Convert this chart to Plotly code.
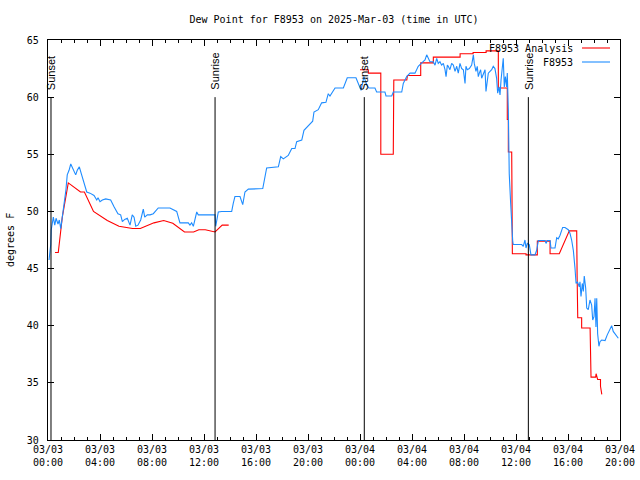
import datetime as dt
import plotly.graph_objects as go

BASE = dt.datetime(2025, 3, 3, 0, 0)

# ---- Analysis (red), hours since 03/03 00:00 ----
an_hours = [0.54, 0.79, 1.10, 1.56, 2.5, 2.8, 3.5, 4.56, 5.46, 6.5, 7.1, 8.15, 8.9, 9.6, 10.5, 11.2, 11.6, 12.1, 12.85, 13.4, 13.9,
            None,
            24.0, 24.64, 24.64, 25.6, 25.6, 26.56, 26.6, 27.6, 27.65, 28.67, 28.67, 29.64, 29.64, 31.7, 31.7, 32.7, 32.7, 33.7, 33.7,
            34.64, 34.64, 35.33, 35.33, 35.41, 35.41, 35.67, 35.72, 36.77, 36.77, 37.64, 37.64, 38.62, 38.62, 39.33, 40.1, 40.67,
            40.7, 40.75, 41.05, 41.05, 41.7, 41.77, 42.13, 42.16, 42.28, 42.5, 42.5, 42.6]
an_vals = [46.4, 46.4, 49.5, 52.5, 51.7, 51.7, 50.0, 49.2, 48.7, 48.5, 48.5, 49.0, 49.2, 48.96, 48.2, 48.2, 48.4, 48.4, 48.2, 48.8, 48.8,
           None,
           62.4, 62.4, 62.1, 62.1, 55.0, 55.0, 61.5, 61.5, 61.9, 61.9, 63.0, 63.0, 63.5, 63.5, 63.8, 63.8, 63.9, 63.9, 64.05,
           64.05, 60.8, 60.8, 58.05, 58.05, 55.2, 55.2, 46.3, 46.3, 46.2, 46.2, 47.4, 47.4, 46.3, 46.3, 48.3, 48.3,
           44.4, 40.7, 40.7, 39.8, 39.8, 35.5, 35.5, 35.8, 35.3, 35.3, 34.7, 34.0]

# ---- Observations F8953 (blue) ----
ob_hours = [0.08, 0.21, 0.25, 0.41, 0.52, 0.62, 0.77, 0.87, 0.98, 1.10, 1.23, 1.38, 1.48, 1.62, 1.75, 1.87, 2.0, 2.13, 2.25, 2.41,
            2.56, 2.72, 2.82, 2.98, 3.23, 3.54, 3.75, 3.85, 4.0, 4.18, 4.44, 4.82, 5.08, 5.38, 5.59, 5.72, 5.9, 6.1, 6.31, 6.48,
            6.62, 6.75, 6.92, 7.13, 7.33, 7.44, 7.64, 7.85, 8.1, 8.48, 9.38, 9.9, 10.15, 10.79, 10.92, 11.05, 11.18, 11.31, 11.44,
            11.56, 12.85, 12.9, 12.98, 13.1, 13.36, 14.13, 14.25, 14.38, 14.77, 14.98, 15.15, 15.41, 16.52, 16.82, 17.72, 17.9,
            18.1, 18.48, 18.75, 19.0, 19.13, 19.52, 19.69, 20.15, 20.36, 20.46, 20.79, 21.05, 21.38, 21.56, 21.69, 22.08, 22.72,
            23.02, 23.69, 24.08, 24.3, 24.55, 24.69, 25.15, 25.28, 25.92, 26.0, 26.44, 26.56, 27.21, 27.33, 27.59, 27.85, 28.23,
            28.48, 28.75, 29.0, 29.13, 29.25, 29.38, 29.64, 29.77,
            29.9, 30.02, 30.15, 30.28, 30.41, 30.54, 30.62, 30.72, 30.79, 30.92, 31.05, 31.18, 31.31, 31.44, 31.56, 31.69, 31.82,
            31.95, 32.08, 32.15, 32.25, 32.41, 32.59, 32.72, 32.79, 32.92, 33.02, 33.1, 33.18, 33.28, 33.36, 33.48, 33.62, 33.69,
            33.79, 33.87, 34.0, 34.13, 34.25, 34.38, 34.51, 34.59, 34.69, 34.77, 34.85, 34.98, 35.02, 35.1, 35.18, 35.28, 35.33,
            35.41, 35.48, 35.59, 35.67, 35.75, 35.79, 36.44, 36.56, 36.69, 36.77, 36.87, 37.02, 37.15, 37.46, 37.59, 37.72, 38.23,
            38.31, 38.41, 38.62, 38.69, 39.0, 39.13, 39.25, 39.38, 39.59, 39.77, 40.02, 40.15, 40.28, 40.41, 40.54, 40.62, 40.72,
            40.87, 40.92, 41.0, 41.1, 41.18, 41.25, 41.36, 41.44, 41.56, 41.69, 41.82, 41.9, 42.0, 42.08, 42.15, 42.21, 42.28,
            42.38, 42.46, 42.59, 42.85, 43.02, 43.23, 43.36, 43.48, 43.69, 43.87]
ob_vals = [45.75, 47.1, 48.4, 49.5, 48.8, 49.4, 48.9, 49.25, 48.5, 49.5, 50.4, 51.9, 53.2, 53.6, 54.15, 53.8, 53.6, 53.2, 53.6, 53.9,
           53.3, 52.75, 52.2, 51.7, 51.6, 51.4, 51.0, 51.2, 50.85, 51.0, 51.1, 51.0, 50.4, 49.8, 49.7, 49.1, 49.3, 49.4, 48.8, 49.7,
           49.5, 48.7, 48.8, 49.25, 50.2, 49.5, 49.7, 49.7, 49.8, 50.3, 50.3, 50.0, 49.0, 49.0, 48.8, 49.0, 48.7, 49.4, 49.95,
           49.7, 49.7, 48.7, 49.1, 49.95, 50.0, 50.0, 50.7, 51.3, 51.3, 50.6, 51.7, 51.95, 52.0, 53.8, 53.9, 54.8,
           54.6, 54.9, 55.5, 55.5, 56.1, 56.25, 57.1, 57.6, 57.9, 58.7, 58.9, 59.5, 59.55, 60.3, 60.1, 60.8, 60.8,
           61.7, 61.7, 60.6, 61.8, 61.0, 60.8, 60.8, 60.45, 60.45, 60.1, 60.1, 60.45, 60.45, 61.2, 61.8, 62.1, 62.1,
           62.7, 63.0, 63.25, 63.7, 63.4, 63.1, 63.1, 62.8,
           63.4, 62.95, 63.1, 62.8, 62.95, 62.4, 61.8, 62.8, 62.7, 62.4, 62.95, 62.8, 62.25, 62.7, 62.1, 62.95, 62.5,
           62.4, 61.2, 62.7, 62.4, 62.5, 62.8, 63.7, 62.95, 62.25, 62.7, 61.8, 62.1, 62.4, 61.65, 62.1, 62.4, 60.5,
           61.8, 62.1, 62.25, 62.4, 62.7, 62.5, 61.65, 60.35, 60.9, 60.2, 61.5, 62.7, 63.4, 60.9, 61.8, 60.9, 62.1,
           58.9, 53.3, 50.7, 48.4, 47.35, 47.1, 47.1, 46.95, 47.5, 46.8, 47.2, 47.1, 46.2, 46.2, 46.6, 47.45, 47.45,
           47.2, 47.45, 47.45, 46.8, 46.8, 47.7, 47.6, 47.9, 48.6, 48.6, 48.4, 48.1, 47.5, 46.6, 45.0, 43.7, 43.85,
           43.4, 43.85, 42.55, 43.7, 43.0, 44.35, 43.3, 41.55, 41.4, 42.25, 41.8, 40.5, 40.8, 42.4, 39.9, 42.4, 39.3,
           38.2, 38.6, 38.75, 38.7, 39.2, 39.8, 40.0, 39.5, 39.2, 38.9]

# ---- Sun events ----
sun_labels = ["Sunset", "Sunrise", "Sunset", "Sunrise"]
sun_hours = [0.23, 12.85, 24.33, 36.95]

# ---- Axes ----
x_span_hours = 44
y_range = [30, 65]
y_dtick = 5
title_text = "Dew Point for F8953 on 2025-Mar-03 (time in UTC)"
y_title = "degrees F"
legend_names = ["F8953 Analysis", "F8953"]
RED = "#ff0000"
BLUE = "#1e8cff"
MONO = "DejaVu Sans Mono"


def to_time(hours):
    return [None if h is None else BASE + dt.timedelta(hours=h) for h in hours]


fig = go.Figure()
fig.add_trace(go.Scatter(x=to_time(an_hours), y=an_vals, mode="lines", name=legend_names[0],
                         line=dict(color=RED, width=1.1), connectgaps=False, showlegend=False))
fig.add_trace(go.Scatter(x=to_time(ob_hours), y=ob_vals, mode="lines", name=legend_names[1],
                         line=dict(color=BLUE, width=1.1), showlegend=False))

shapes = []
annotations = []
for lab, h in zip(sun_labels, sun_hours):
    t = BASE + dt.timedelta(hours=h)
    shapes.append(dict(type="line", xref="x", yref="y", x0=t, x1=t, y0=30, y1=60,
                       line=dict(color="black", width=1)))
    annotations.append(dict(text=lab, x=t, y=60, xref="x", yref="y", textangle=-90,
                            showarrow=False, xanchor="center", yanchor="bottom", yshift=5,
                            font=dict(family="Liberation Sans", size=11, color="black")))

# legend drawn as gnuplot-style key (text then sample line)
PW, PH, L, T = 572, 400, 48, 40
def px(xp):
    return (xp - L) / PW
def py(yp):
    return 1 - (yp - T) / PH

for name, col, yp in [(legend_names[0], RED, 48), (legend_names[1], BLUE, 62)]:
    annotations.append(dict(text=name, x=px(575), y=py(yp), xref="paper", yref="paper",
                            xanchor="right", yanchor="middle", showarrow=False,
                            font=dict(family=MONO, size=10, color="black")))
    shapes.append(dict(type="line", xref="paper", yref="paper", x0=px(582), x1=px(610),
                       y0=py(yp), y1=py(yp), line=dict(color=col, width=1.1)))

annotations.append(dict(text=y_title, x=px(10), y=0.5, xref="paper", yref="paper",
                        textangle=-90, showarrow=False, xanchor="center", yanchor="middle",
                        font=dict(family=MONO, size=10, color="black")))

fig.update_layout(
    width=640, height=480,
    margin=dict(l=48, r=20, t=40, b=40, autoexpand=False),
    paper_bgcolor="white", plot_bgcolor="white",
    title=dict(text=title_text, x=0.5, xref="paper", y=1 - 19 / 480, yref="container",
               xanchor="center", yanchor="middle",
               font=dict(family=MONO, size=10, color="black")),
    shapes=shapes, annotations=annotations,
    showlegend=False,
)
fig.update_xaxes(
    type="date", automargin=False,
    range=[BASE, BASE + dt.timedelta(hours=x_span_hours)],
    tick0=BASE, dtick=4 * 3600 * 1000, tickformat="%m/%d<br>%H:%M",
    ticks="inside", ticklen=6, tickcolor="black", tickwidth=1,
    showline=True, linecolor="black", linewidth=1.2, mirror="ticks",
    showgrid=False, zeroline=False,
    minor=dict(dtick=3600 * 1000, ticks="inside", ticklen=3, tickcolor="black", showgrid=False),
    tickfont=dict(family=MONO, size=10, color="black"),
)
fig.update_yaxes(
    range=y_range, dtick=y_dtick, tick0=30, automargin=False,
    ticks="inside", ticklen=6, tickcolor="black", tickwidth=1,
    showline=True, linecolor="black", linewidth=1.2, mirror="ticks",
    showgrid=False, zeroline=False,
    tickfont=dict(family=MONO, size=10, color="black"),
    ticklabelstandoff=6,
)

fig.write_html("out.html")
